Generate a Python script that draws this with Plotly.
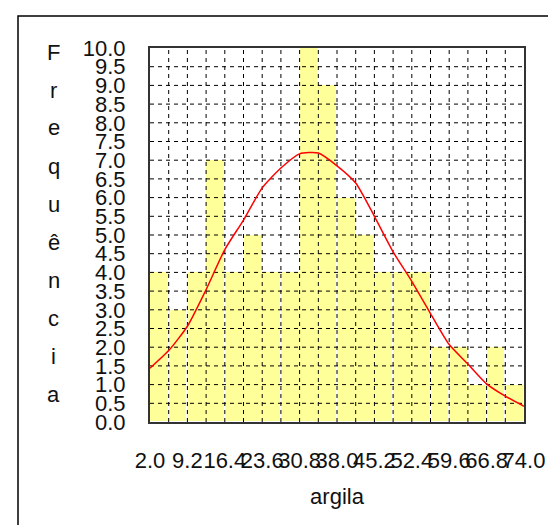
import plotly.graph_objects as go

# ---- data ----
bin_start = 2.0
bin_width = 3.6
counts = [4, 3, 4, 7, 4, 5, 4, 4, 10, 9, 6, 5, 4, 4, 4, 2, 2, 1, 2, 1]
# fitted normal curve, read at each bin edge (21 points)
curve_y = [1.44, 1.91, 2.56, 3.54, 4.61, 5.40, 6.26, 6.79, 7.17, 7.19, 6.85,
           6.39, 5.50, 4.55, 3.76, 2.90, 2.07, 1.55, 1.02, 0.69, 0.42]
x_ticks = [2.0, 9.2, 16.4, 23.6, 30.8, 38.0, 45.2, 52.4, 59.6, 66.8, 74.0]
y_ticks = [i * 0.5 for i in range(21)]
x_title = "argila"
y_title = "Frequência"

# ---- derived ----
n = len(counts)
edges = [bin_start + i * bin_width for i in range(n + 1)]
centers = [bin_start + (i + 0.5) * bin_width for i in range(n)]
x_min, x_max = edges[0], edges[-1]
y_min, y_max = y_ticks[0], y_ticks[-1]

W, H = 556, 525
L, R, T, B = 142, 40, 40, 111
pw, ph = W - L - R, H - T - B
FONT = "Liberation Sans, Arial, sans-serif"

fig = go.Figure()
fig.add_trace(go.Bar(
    x=centers, y=counts, width=[bin_width] * n,
    marker=dict(color="#FFFF99", line=dict(color="white", width=1)),
    hoverinfo="skip", showlegend=False,
))

# dashed grid drawn above the bars
gx, gy = [], []
for yv in y_ticks[1:-1]:
    gx += [x_min, x_max, None]
    gy += [yv, yv, None]
fig.add_trace(go.Scatter(x=gx, y=gy, mode="lines",
                         line=dict(color="black", width=1, dash="4px,4px"),
                         hoverinfo="skip", showlegend=False))
vx, vy = [], []
for xv in edges[1:-1]:
    vx += [xv, xv, None]
    vy += [y_min, y_max, None]
fig.add_trace(go.Scatter(x=vx, y=vy, mode="lines",
                         line=dict(color="black", width=1, dash="4px,4px"),
                         hoverinfo="skip", showlegend=False))

fig.add_trace(go.Scatter(x=edges, y=curve_y, mode="lines",
                         line=dict(color="#FF0000", width=1.5,
                                   shape="spline", smoothing=0.6),
                         hoverinfo="skip", showlegend=False))

tick_font = dict(family=FONT, size=22, color="#111")

fig.update_layout(
    width=W, height=H,
    margin=dict(l=L, r=R, t=T, b=B),
    paper_bgcolor="white", plot_bgcolor="white",
    bargap=0,
    xaxis=dict(range=[x_min, x_max], tickvals=x_ticks,
               ticktext=[f"{v:.1f}" for v in x_ticks],
               tickangle=0,
               showgrid=False, zeroline=False, ticks="",
               ticklabelstandoff=18, tickfont=tick_font,
               showline=True, linecolor="#333", linewidth=2, mirror=True,
               title=dict(text=x_title, font=dict(family=FONT, size=22, color="#111"),
                          standoff=16)),
    yaxis=dict(range=[y_min, y_max], tickvals=y_ticks,
               ticktext=[f"{v:.1f}" for v in y_ticks],
               showgrid=False, zeroline=False, ticks="",
               ticklabelstandoff=18, tickfont=tick_font,
               showline=True, linecolor="#333", linewidth=2, mirror=True),
)

# vertical, letter-stacked y title
letters = list(y_title)
for i, ch in enumerate(letters):
    yc = 44 + i * 38.0
    fig.add_annotation(text=ch, xref="paper", yref="paper",
                       x=(46 - L) / pw, y=(H - B - yc) / ph,
                       showarrow=False, xanchor="center", yanchor="middle",
                       font=dict(family=FONT, size=22, color="#111"))

# outer frame of the chart picture
fig.add_shape(type="rect", xref="paper", yref="paper",
              x0=(10 - L) / pw, x1=(548 - L) / pw,
              y0=(H - B - 540) / ph, y1=(H - B - 8) / ph,
              line=dict(color="black", width=1.5), fillcolor="rgba(0,0,0,0)",
              layer="below")

fig.write_html("out.html")
